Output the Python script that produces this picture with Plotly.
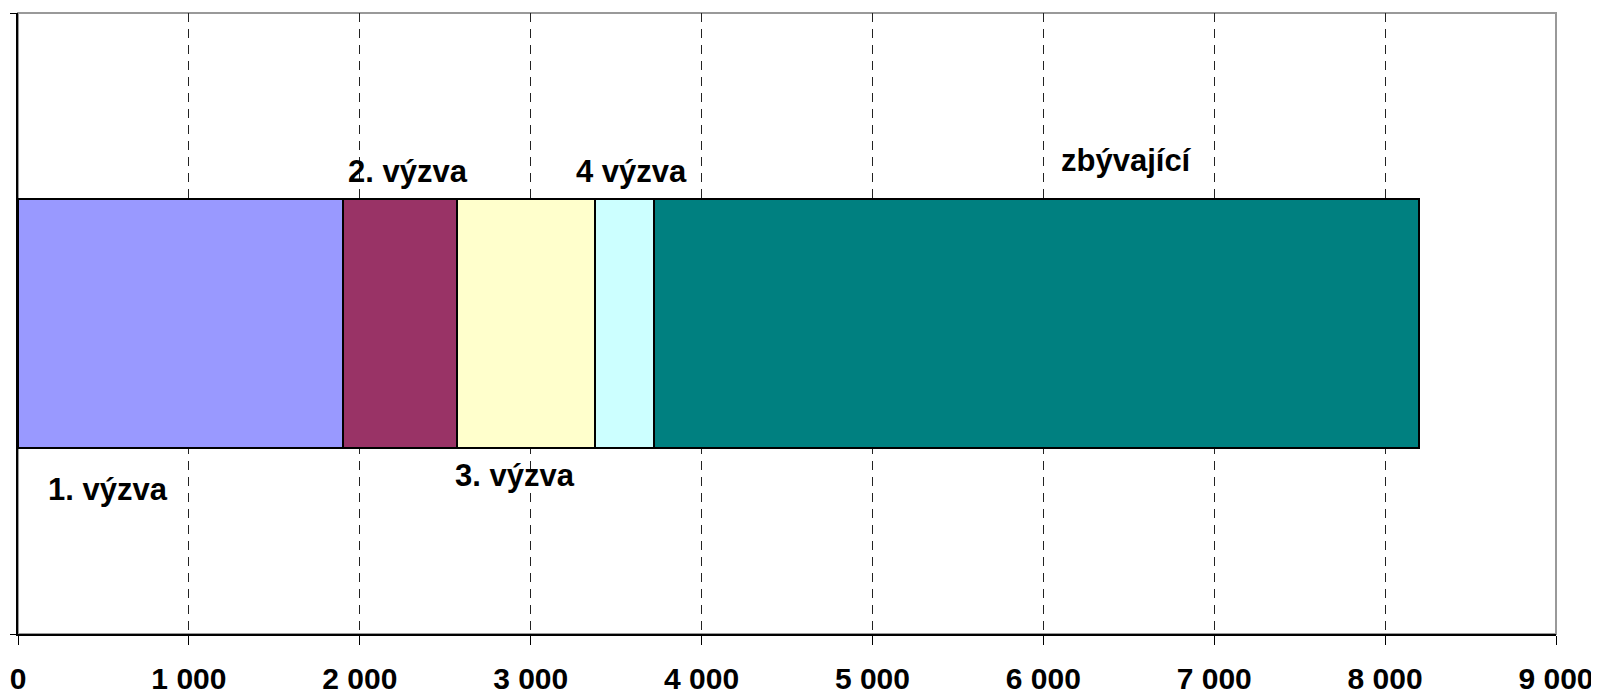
import plotly.graph_objects as go

categories = ["1. výzva", "2. výzva", "3. výzva", "4 výzva", "zbývající"]
values = [1902, 668, 806, 345, 4475]
colors = ["#9999FF", "#993366", "#FFFFCC", "#CCFFFF", "#008080"]
tick_vals = [0, 1000, 2000, 3000, 4000, 5000, 6000, 7000, 8000, 9000]

# label placement (styling): pixel shift from segment centre and vertical position
label_xshift = [-73, 8, -11, 7, 90]
label_y = [-0.268, 0.245, -0.244, 0.245, 0.262]

FONT = "Liberation Sans, Arial, sans-serif"

fig = go.Figure()
for name, v, c in zip(categories, values, colors):
    fig.add_trace(go.Bar(
        x=[v], y=[0], name=name, orientation="h",
        marker=dict(color=c, line=dict(color="black", width=2)),
        width=0.4, showlegend=False,
    ))

cum = 0
for i, (name, v) in enumerate(zip(categories, values)):
    mid = cum + v / 2
    cum += v
    fig.add_annotation(
        x=mid, y=label_y[i], xref="x", yref="y", text=name, showarrow=False,
        xshift=label_xshift[i],
        font=dict(family=FONT, size=31, color="black", weight=700),
    )

fig.add_shape(type="rect", xref="paper", yref="paper", x0=0, x1=1, y0=0, y1=1,
              line=dict(color="#999999", width=2), layer="below")

# page body has an 8px default margin, so the figure is sized to end at the window edge
fig.update_layout(
    width=1591, height=688,
    margin=dict(l=10, r=43, t=5, b=62),
    barmode="stack",
    plot_bgcolor="white", paper_bgcolor="white",
    separators=", ",
    font=dict(family=FONT, color="black"),
)
fig.update_xaxes(
    range=[0, 9000], tickvals=tick_vals, tickformat=",d",
    showgrid=True, gridcolor="#222222", gridwidth=1, griddash="9px,7px",
    showline=True, linecolor="black", linewidth=2,
    ticks="outside", ticklen=9, tickcolor="black", tickwidth=1,
    tickfont=dict(family=FONT, size=30, color="black", weight=700),
    ticklabelstandoff=8, zeroline=False, automargin=False,
)
fig.update_yaxes(
    range=[-0.5, 0.5], tickvals=[-0.5, 0.5], showticklabels=False,
    showgrid=False, zeroline=False, automargin=False,
    showline=True, linecolor="black", linewidth=2,
    ticks="outside", ticklen=6, tickcolor="black",
)

fig.write_html("out.html")
